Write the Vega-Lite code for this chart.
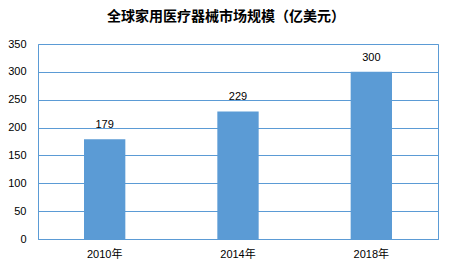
{
  "$schema": "https://vega.github.io/schema/vega-lite/v6.json",
  "autosize": "none",
  "width": 400,
  "height": 195,
  "padding": {"left": 38, "top": 44, "right": 15, "bottom": 33},
  "background": "white",
  "title": {
    "text": "全球家用医疗器械市场规模（亿美元）",
    "font": "Noto Sans CJK SC",
    "fontSize": 14,
    "fontWeight": "bold",
    "color": "#000000",
    "anchor": "middle",
    "dx": -12,
    "offset": 14
  },
  "config": {
    "view": {"stroke": "#5b9bd5", "strokeWidth": 1},
    "axis": {
      "labelFont": "Liberation Sans, Noto Sans CJK SC",
      "labelFontSize": 11,
      "labelColor": "#000000",
      "ticks": false,
      "domain": false,
      "titleFontSize": 0
    }
  },
  "data": {
    "values": [
      {"year": "2010年", "value": 179},
      {"year": "2014年", "value": 229},
      {"year": "2018年", "value": 300}
    ]
  },
  "encoding": {
    "x": {
      "field": "year",
      "type": "nominal",
      "title": null,
      "scale": {"paddingInner": 0.69, "paddingOuter": 0.345},
      "axis": {"labelAngle": 0, "labelPadding": 9, "domain": true, "domainColor": "#5b9bd5", "grid": false}
    },
    "y": {
      "field": "value",
      "type": "quantitative",
      "title": null,
      "scale": {"domain": [0, 350], "nice": false},
      "axis": {"values": [0, 50, 100, 150, 200, 250, 300, 350], "gridColor": "#5b9bd5", "gridOpacity": 1, "labelPadding": 12}
    }
  },
  "layer": [
    {"mark": {"type": "bar", "color": "#5b9bd5"}},
    {
      "mark": {"type": "text", "baseline": "bottom", "dy": -9, "font": "Liberation Sans", "fontSize": 11, "color": "#000000"},
      "encoding": {"text": {"field": "value", "type": "quantitative"}}
    }
  ]
}
